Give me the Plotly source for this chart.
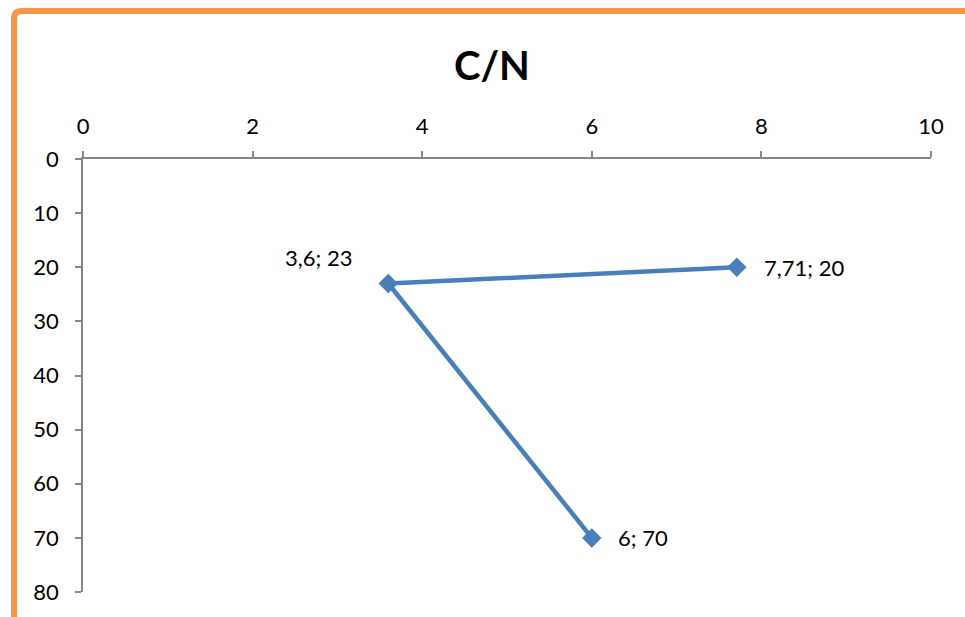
import plotly.graph_objects as go

# C/N series, in drawing order
cn_x = [7.71, 3.6, 6]
cn_y = [20, 23, 70]
x_ticks = [0, 2, 4, 6, 8, 10]
y_ticks = [0, 10, 20, 30, 40, 50, 60, 70, 80]

# label placement per point: (xanchor, xshift, yshift)
label_place = [("left", 25, 0), ("right", -34, 26), ("left", 24, 0)]


def fmt(v):
    return f"{v:g}".replace(".", ",")


W, H = 965, 617
L, R, T, B = 83, 34, 159, 25
pw, ph = W - L - R, H - T - B


def px(x):
    return (x - L) / pw


def py(y):
    return (H - B - y) / ph


BLUE = "#4A7EBB"
GREY = "#868686"
FONT = "Lato, 'Open Sans', sans-serif"

fig = go.Figure()
fig.add_trace(go.Scatter(
    x=cn_x, y=cn_y, mode="lines+markers",
    line=dict(color=BLUE, width=4.5),
    marker=dict(symbol="diamond", size=15, color=BLUE),
    showlegend=False, hoverinfo="skip",
))

annotations = []
for (xv, yv), (anc, xs, ys) in zip(zip(cn_x, cn_y), label_place):
    annotations.append(dict(
        x=xv, y=yv, xref="x", yref="y", text=f"{fmt(xv)}; {fmt(yv)}",
        showarrow=False, xanchor=anc, yanchor="middle", xshift=xs, yshift=ys,
        font=dict(family=FONT, size=22, color="#000000"),
    ))

annotations.append(dict(
    x=px(492), y=py(65), xref="paper", yref="paper", text="<b>C/N</b>",
    showarrow=False, xanchor="center", yanchor="middle",
    font=dict(family=FONT, size=40, color="#000000"),
))

# orange frame with rounded top-left corner, running off the page
x0, y0, r = 14, 11, 8
frame = (f"M {px(x0)},{py(H + 20)} L {px(x0)},{py(y0 + r)} "
         f"Q {px(x0)},{py(y0)} {px(x0 + r)},{py(y0)} L {px(W + 20)},{py(y0)}")

fig.update_layout(
    width=W, height=H,
    margin=dict(l=L, r=R, t=T, b=B),
    paper_bgcolor="white", plot_bgcolor="white",
    annotations=annotations,
    shapes=[dict(type="path", path=frame, xref="paper", yref="paper",
                 line=dict(color="#F79646", width=6))],
    xaxis=dict(
        side="top", range=[0, 10], tickvals=x_ticks,
        ticktext=[str(v) for v in x_ticks],
        showgrid=False, zeroline=False, showline=True,
        linecolor=GREY, linewidth=1.5,
        ticks="outside", ticklen=6, tickcolor=GREY, tickwidth=1.5,
        tickfont=dict(family=FONT, size=22, color="#000000"),
        ticklabelstandoff=8,
    ),
    yaxis=dict(
        range=[80, 0], tickvals=y_ticks,
        ticktext=[str(v) for v in y_ticks],
        showgrid=False, zeroline=False, showline=True,
        linecolor=GREY, linewidth=1.5,
        ticks="outside", ticklen=6, tickcolor=GREY, tickwidth=1.5,
        tickfont=dict(family=FONT, size=22, color="#000000"),
        ticklabelstandoff=12,
    ),
)

fig.write_html("out.html")
